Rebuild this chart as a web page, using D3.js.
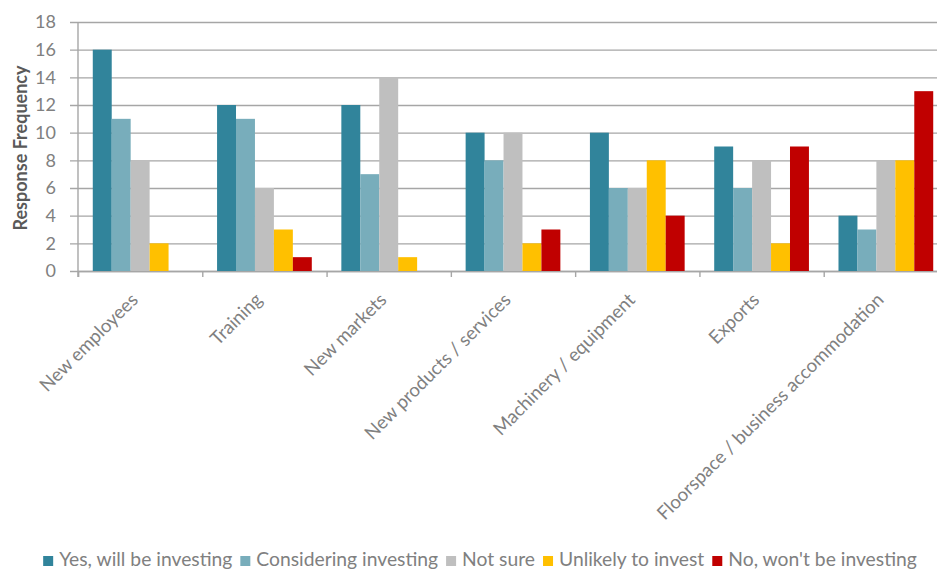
<!DOCTYPE html>
<html>
<head>
<meta charset="utf-8">
<script src="https://cdn.jsdelivr.net/npm/d3@7"></script>
<style>
  body { margin: 0; background: #ffffff; }
  svg { display: block; }
  text { font-family: Lato, "Open Sans", sans-serif; }
</style>
</head>
<body>
<svg id="chart" width="937" height="569"></svg>
<script>
// Investment intentions by area
const categories = [
  "New employees",
  "Training",
  "New markets",
  "New products / services",
  "Machinery / equipment",
  "Exports",
  "Floorspace / business accommodation"
];
const seriesNames = [
  "Yes, will be investing",
  "Considering investing",
  "Not sure",
  "Unlikely to invest",
  "No, won't be investing"
];
const yesInvesting  = [16, 12, 12, 10, 10, 9, 4];
const considering   = [11, 11, 7, 8, 6, 6, 3];
const notSure       = [8, 6, 14, 10, 6, 8, 8];
const unlikely      = [2, 3, 1, 2, 8, 2, 8];
const noInvesting   = [0, 1, 0, 3, 4, 9, 13];
const yTicks = [0, 2, 4, 6, 8, 10, 12, 14, 16, 18];
const seriesColors = ["#31849b", "#78adbb", "#bfbfbf", "#ffc000", "#c00000"];

const seriesValues = [yesInvesting, considering, notSure, unlikely, noInvesting];

const svg = d3.select("#chart");
const plotLeft = 78, plotRight = 948, plotTop = 22, plotBottom = 271;

const y = d3.scaleLinear().domain([0, 18]).range([plotBottom, plotTop]);
const x0 = d3.scaleBand().domain(categories).range([plotLeft, plotRight]);
const x1 = d3.scaleBand().domain(seriesNames).range([0, x0.bandwidth()]).paddingOuter(0.78);
const color = d3.scaleOrdinal().domain(seriesNames).range(seriesColors);
const gridColor = "#a6a6a6";
const labelColor = "#808080";

// value axis with full-width gridlines
const yAxis = svg.append("g")
  .attr("transform", `translate(${plotLeft},0)`)
  .call(d3.axisLeft(y).tickValues(yTicks).tickSize(-(plotRight - plotLeft)).tickPadding(22));
yAxis.select(".domain").remove();
yAxis.selectAll(".tick line")
  .attr("x1", -8)
  .attr("stroke", gridColor)
  .attr("stroke-width", 1.4);
yAxis.selectAll(".tick text")
  .attr("fill", labelColor)
  .attr("font-size", 18);

// vertical axis line
svg.append("line")
  .attr("x1", plotLeft).attr("x2", plotLeft)
  .attr("y1", y(18)).attr("y2", y(0) + 6)
  .attr("stroke", gridColor).attr("stroke-width", 1.4);

// category axis: baseline and boundary ticks
const boundary = d3.scaleLinear().domain([0, categories.length]).range([plotLeft, plotRight]);
const xAxis = svg.append("g")
  .attr("transform", `translate(0,${plotBottom})`)
  .call(d3.axisBottom(boundary).tickValues(d3.range(categories.length + 1)).tickSize(6).tickFormat(""));
xAxis.select(".domain").attr("stroke", gridColor).attr("stroke-width", 1.4);
xAxis.selectAll(".tick line").attr("stroke", gridColor).attr("stroke-width", 1.4);

// bars
const rows = categories.map((c, i) => ({
  category: c,
  values: seriesNames.map((s, k) => ({ series: s, value: seriesValues[k][i] }))
}));

svg.append("g")
  .selectAll("g")
  .data(rows)
  .join("g")
  .attr("transform", d => `translate(${x0(d.category)},0)`)
  .selectAll("rect")
  .data(d => d.values.filter(v => v.value > 0))
  .join("rect")
  .attr("x", d => x1(d.series))
  .attr("width", x1.bandwidth())
  .attr("y", d => y(d.value))
  .attr("height", d => y(0) - y(d.value))
  .attr("fill", d => color(d.series));

// rotated category labels
svg.append("g")
  .selectAll("text")
  .data(categories)
  .join("text")
  .attr("transform", d => `translate(${x0(d) + x0.bandwidth() / 2 - 1},${plotBottom + 30}) rotate(-45)`)
  .attr("text-anchor", "end")
  .attr("fill", labelColor)
  .attr("font-size", 18.6)
  .text(d => d);

// axis title
svg.append("text")
  .attr("transform", `translate(27,148) rotate(-90)`)
  .attr("text-anchor", "middle")
  .attr("fill", "#595959")
  .attr("font-weight", "bold")
  .attr("font-size", 18)
  .text("Response Frequency");

// legend
const legend = svg.append("g");
let cursor = 0;
seriesNames.forEach(s => {
  const item = legend.append("g").attr("transform", `translate(${cursor},0)`);
  item.append("rect")
    .attr("x", 0).attr("y", -10)
    .attr("width", 10).attr("height", 10)
    .attr("fill", color(s));
  const t = item.append("text")
    .attr("x", 16).attr("y", 0)
    .attr("fill", labelColor)
    .attr("font-size", 19.3)
    .text(s);
  cursor += 16 + t.node().getComputedTextLength() + 8;
});
const legendWidth = cursor - 8;
legend.attr("transform", `translate(${480 - legendWidth / 2},566)`);
</script>
</body>
</html>
